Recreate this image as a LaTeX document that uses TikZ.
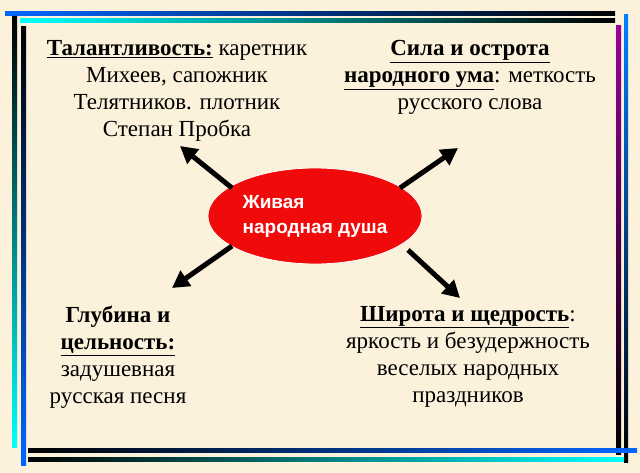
\documentclass[tikz,border=0pt]{standalone}
\usepackage{fontspec}
\setmainfont{Liberation Serif}
\newfontfamily\arialf{Liberation Sans}
\usetikzlibrary{arrows.meta,shapes.geometric}
\definecolor{bg}{HTML}{FCF2DC}
\definecolor{ered}{HTML}{F00A0A}
\tikzset{
 txt/.style={align=center,font=\fontsize{23}{27}\selectfont,inner sep=0pt},
 arr/.style={line width=5pt,-{Triangle[length=17pt,width=18pt]}},
}
\newcommand{\bu}[1]{\underline{\textbf{#1}}}
\begin{document}
\begin{tikzpicture}[x=1pt,y=-1pt]
\fill[bg] (0,0) rectangle (640,473);
\useasboundingbox (0,0) rectangle (640,473);
% frame
\shade[left color=blue!60!cyan,right color=black] (5,12) rectangle (615,16);
\shade[left color=cyan,right color=black] (20,19) rectangle (615,23);
\shade[top color=violet!80!magenta,bottom color=black] (616,26) rectangle (621,454);
\shade[top color=blue!50!cyan,bottom color=black] (624,15) rectangle (628,462);
\shade[left color=black,right color=blue!60!cyan] (28,448) rectangle (637,452);
\shade[left color=black,right color=cyan] (28,457) rectangle (624,461);
\shade[top color=black,bottom color=cyan] (12,17) rectangle (17,447);
\shade[top color=black,bottom color=blue!60!cyan] (21,27) rectangle (26,465);
% center
\node[ellipse,fill=ered,draw=white,line width=0.8pt,minimum width=196pt,minimum height=96pt,
 text=white,align=left,font=\arialf\bfseries\fontsize{19}{25}\selectfont] (c) at (315,216)
 {Живая\\народная душа};
\coordinate (tl) at (180,146);
\coordinate (tr) at (458,148);
\coordinate (bl) at (172,288);
\coordinate (br) at (460,298);
\draw[arr] (232,188) -- (tl);
\draw[arr] (400,188) -- (tr);
\draw[arr] (232,246) -- (bl);
\draw[arr] (408,250) -- (br);
\node[txt,anchor=north] (t1) at (177,40) {\bu{Талантливость:} каретник\\Михеев, сапожник\\Телятников. плотник\\Степан Пробка};
\node[txt,anchor=north] (t2) at (470,40) {\bu{Сила и острота}\\\bu{народного ума}: меткость\\русского слова};
\node[txt,anchor=north] (t3) at (118,306) {\textbf{Глубина и}\\\bu{цельность:}\\задушевная\\русская песня};
\node[txt,anchor=north] (t4) at (468,306) {\bu{Широта и щедрость}:\\яркость и безудержность\\веселых народных\\праздников};
\end{tikzpicture}
\end{document}
